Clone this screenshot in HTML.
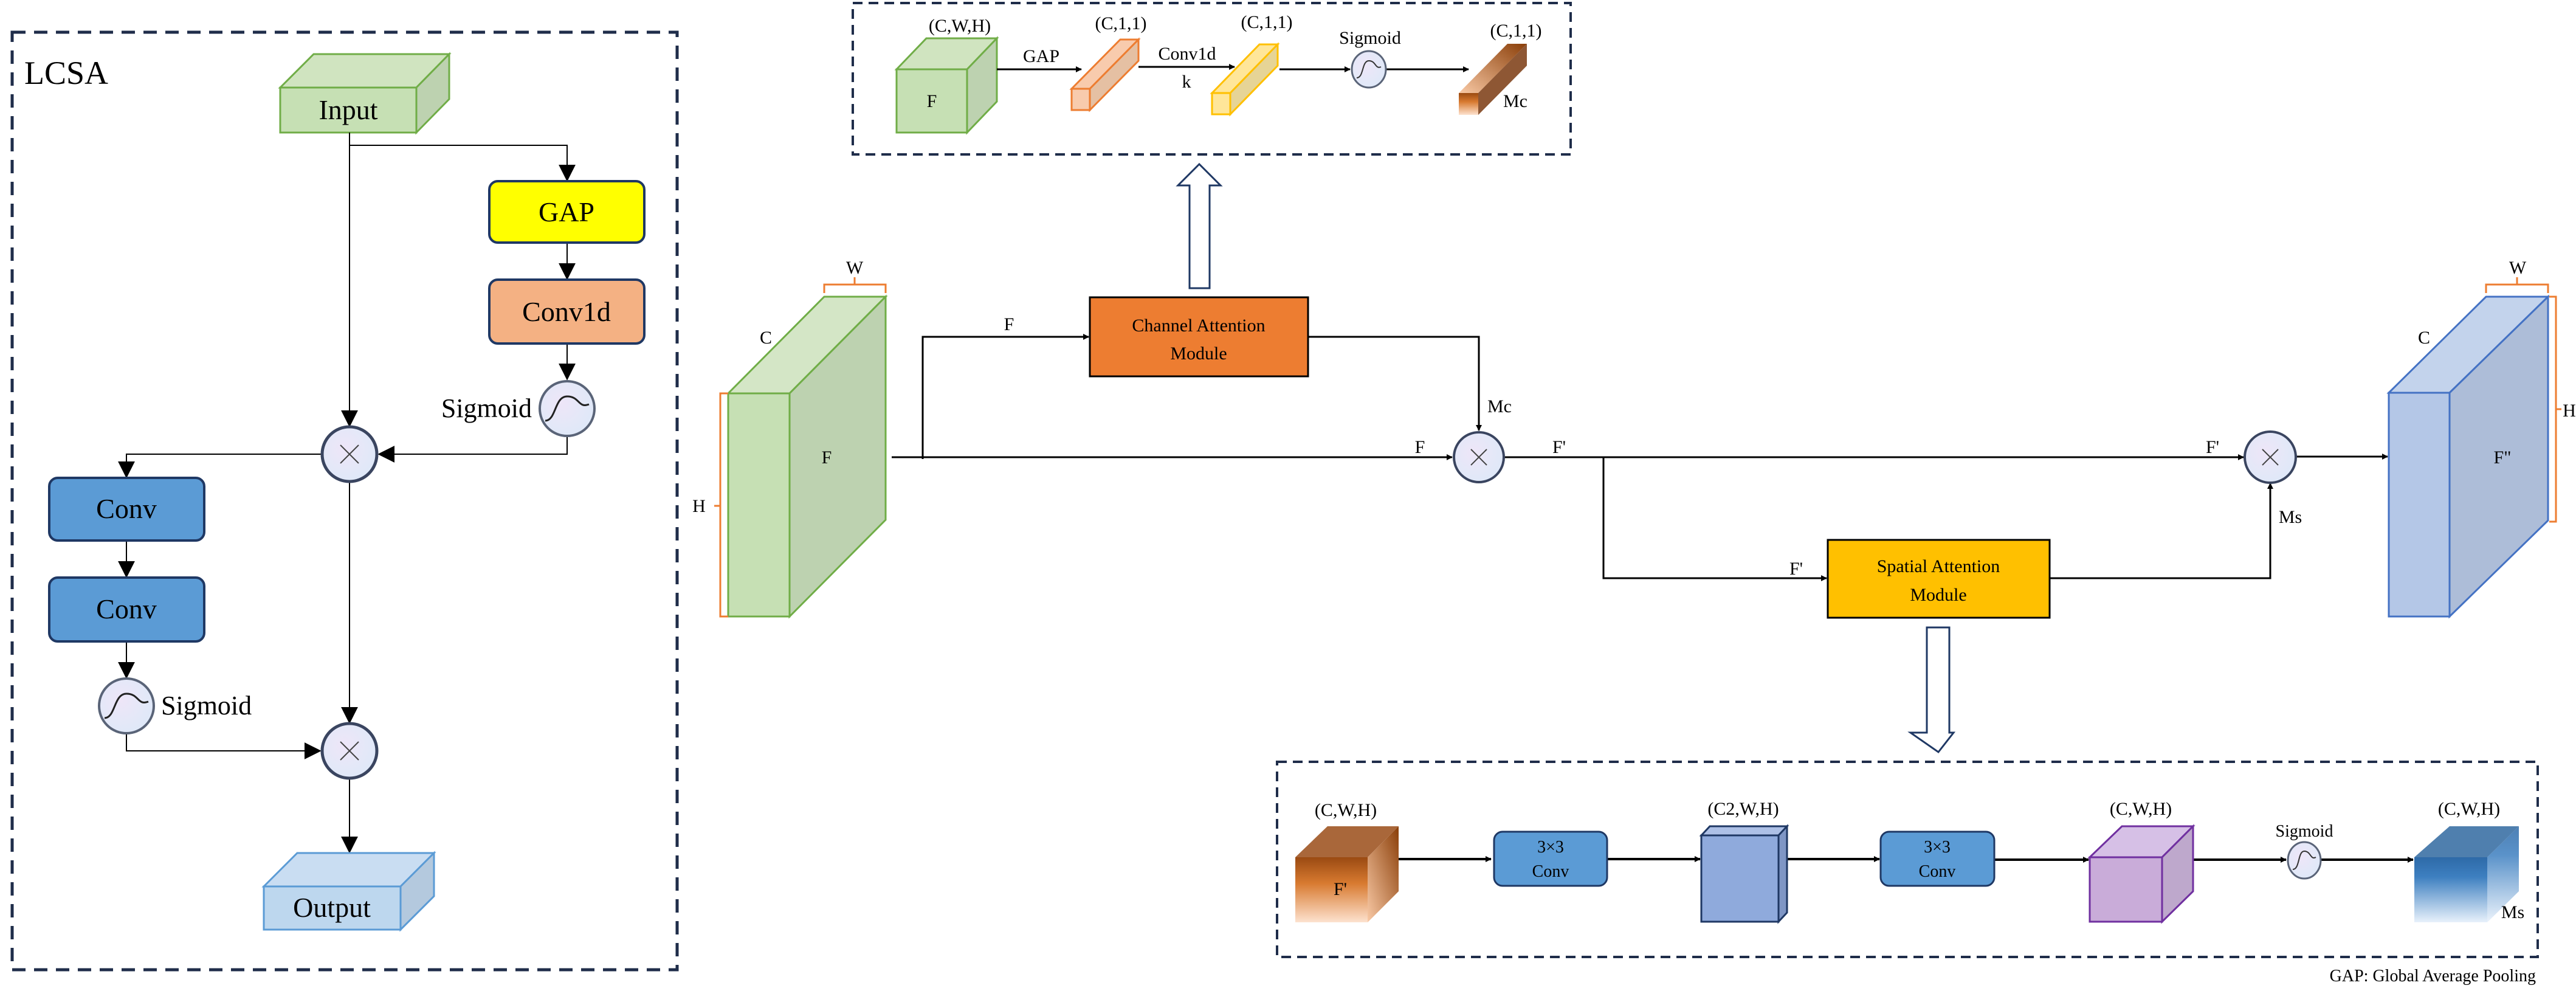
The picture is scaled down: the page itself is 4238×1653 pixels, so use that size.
<!DOCTYPE html>
<html><head><meta charset="utf-8"><style>
html,body{margin:0;padding:0;background:#fff;}
svg{display:block;}
text{font-family:"Liberation Serif",serif;fill:#000;}
</style></head><body>
<svg width="4238" height="1653" viewBox="0 0 4238 1653" xmlns="http://www.w3.org/2000/svg">
<defs>
<marker id="a" viewBox="0 0 10 10" refX="9" refY="5" markerWidth="10" markerHeight="10" markerUnits="userSpaceOnUse" orient="auto"><path d="M0,0L10,5L0,10z" fill="#000"/></marker>
<marker id="b" viewBox="0 0 10 10" refX="9" refY="5" markerWidth="28" markerHeight="28" markerUnits="userSpaceOnUse" orient="auto"><path d="M0,0L10,5L0,10z" fill="#000"/></marker>
<radialGradient id="cg" cx="0.4" cy="0.4" r="0.7"><stop offset="0" stop-color="#eee6f8"/><stop offset="1" stop-color="#dde9f8"/></radialGradient>
<linearGradient id="brn" x1="0" y1="1" x2="0" y2="0"><stop offset="0" stop-color="#fde2cf"/><stop offset="0.6" stop-color="#d87a30"/><stop offset="1" stop-color="#9a4a12"/></linearGradient>
<linearGradient id="brn2" x1="0" y1="1" x2="1" y2="0"><stop offset="0" stop-color="#f9c9a5"/><stop offset="1" stop-color="#8a3e08"/></linearGradient>
<linearGradient id="blu" x1="0" y1="1" x2="0" y2="0"><stop offset="0" stop-color="#e8f1fb"/><stop offset="0.7" stop-color="#3d7fc0"/><stop offset="1" stop-color="#2e6aa8"/></linearGradient>
</defs>

<!-- LEFT PANEL -->
<rect x="20" y="53" width="1094" height="1542" fill="none" stroke="#1f2d4a" stroke-width="5" stroke-dasharray="22,14"/>
<text x="40" y="138" font-size="54">LCSA</text>
<!-- Input -->
<polygon points="461,144 516,89 739,89 685,144" fill="#d0e4c0" stroke="#70ad47" stroke-width="3"/>
<polygon points="685,144 739,89 739,163 685,218" fill="#bdd2b0" stroke="#70ad47" stroke-width="3"/>
<rect x="461" y="144" width="224" height="74" fill="#c6e0b4" stroke="#70ad47" stroke-width="3"/>
<text x="573" y="196" font-size="46" text-anchor="middle">Input</text>
<g stroke="#000" stroke-width="2" fill="none">
<path d="M575,218V700" marker-end="url(#b)"/>
<path d="M575,239H933V296" marker-end="url(#b)"/>
<path d="M933,399V458" marker-end="url(#b)"/>
<path d="M933,565V623" marker-end="url(#b)"/>
<path d="M933,719V747H624" marker-end="url(#b)"/>
<path d="M528,747H208V784" marker-end="url(#b)"/>
<path d="M208,889V948" marker-end="url(#b)"/>
<path d="M208,1055V1114" marker-end="url(#b)"/>
<path d="M575,794V1188" marker-end="url(#b)"/>
<path d="M208,1206V1235H526" marker-end="url(#b)"/>
<path d="M575,1282V1401" marker-end="url(#b)"/>
</g>
<rect x="805" y="298" width="255" height="101" rx="14" fill="#ffff00" stroke="#1f3864" stroke-width="4"/>
<text x="932" y="364" font-size="46" text-anchor="middle">GAP</text>
<rect x="805" y="460" width="255" height="105" rx="14" fill="#f4b183" stroke="#1f3864" stroke-width="4"/>
<text x="932" y="528" font-size="46" text-anchor="middle">Conv1d</text>
<circle cx="933" cy="672" r="45" fill="url(#cg)" stroke="#5a6478" stroke-width="4"/>
<path d="M897,692C915,692 912,652 933,652S951,672 969,665" stroke="#222" stroke-width="3" fill="none"/>
<text x="875" y="686" font-size="44" text-anchor="end">Sigmoid</text>
<circle cx="575" cy="747" r="45" fill="url(#cg)" stroke="#3a4560" stroke-width="5"/>
<path d="M560,732L590,762M590,732L560,762" stroke="#444" stroke-width="2"/>
<rect x="81" y="786" width="255" height="103" rx="14" fill="#5b9bd5" stroke="#1f3864" stroke-width="4"/>
<text x="208" y="852" font-size="46" text-anchor="middle">Conv</text>
<rect x="81" y="950" width="255" height="105" rx="14" fill="#5b9bd5" stroke="#1f3864" stroke-width="4"/>
<text x="208" y="1017" font-size="46" text-anchor="middle">Conv</text>
<circle cx="208" cy="1161" r="45" fill="url(#cg)" stroke="#5a6478" stroke-width="4"/>
<path d="M172,1181C190,1181 187,1141 208,1141S226,1161 244,1154" stroke="#222" stroke-width="3" fill="none"/>
<text x="265" y="1175" font-size="44">Sigmoid</text>
<circle cx="575" cy="1235" r="45" fill="url(#cg)" stroke="#3a4560" stroke-width="5"/>
<path d="M560,1220L590,1250M590,1220L560,1250" stroke="#444" stroke-width="2"/>
<!-- Output -->
<polygon points="434,1458 489,1403 714,1403 659,1458" fill="#c9ddf2" stroke="#5b9bd5" stroke-width="3"/>
<polygon points="659,1458 714,1403 714,1474 659,1529" fill="#b4c9de" stroke="#5b9bd5" stroke-width="3"/>
<rect x="434" y="1458" width="225" height="71" fill="#bdd7ee" stroke="#5b9bd5" stroke-width="3"/>
<text x="546" y="1508" font-size="46" text-anchor="middle">Output</text>

<!-- TOP CHANNEL BOX -->
<rect x="1403" y="5" width="1181" height="249" fill="none" stroke="#1f2d4a" stroke-width="4" stroke-dasharray="16,10"/>
<polygon points="1475,114 1524,63 1640,63 1591,114" fill="#d0e4c0" stroke="#70ad47" stroke-width="3"/>
<polygon points="1591,114 1640,63 1640,167 1591,218" fill="#bdd2b0" stroke="#70ad47" stroke-width="3"/>
<rect x="1475" y="114" width="116" height="104" fill="#c6e0b4" stroke="#70ad47" stroke-width="3"/>
<text x="1533" y="176" font-size="30" text-anchor="middle">F</text>
<text x="1579" y="52" font-size="30" text-anchor="middle">(C,W,H)</text>
<polygon points="1763,146 1843,65 1873,65 1793,146" fill="#f8cbad" stroke="#ed7d31" stroke-width="3"/>
<polygon points="1793,146 1873,65 1873,100 1793,181" fill="#e5c0a3" stroke="#ed7d31" stroke-width="3"/>
<rect x="1763" y="146" width="30" height="35" fill="#f8cbad" stroke="#ed7d31" stroke-width="3"/>
<text x="1844" y="48" font-size="30" text-anchor="middle">(C,1,1)</text>
<polygon points="1994,153 2072,73 2102,73 2024,153" fill="#ffe699" stroke="#ffc000" stroke-width="3"/>
<polygon points="2024,153 2102,73 2102,108 2024,188" fill="#e6d496" stroke="#ffc000" stroke-width="3"/>
<rect x="1994" y="153" width="30" height="35" fill="#ffe699" stroke="#ffc000" stroke-width="3"/>
<text x="2084" y="46" font-size="30" text-anchor="middle">(C,1,1)</text>
<g stroke="#000" stroke-width="3" fill="none">
<path d="M1640,114H1779" marker-end="url(#a)"/>
<path d="M1873,110H2031" marker-end="url(#a)"/>
<path d="M2105,114H2221" marker-end="url(#a)"/>
<path d="M2281,114H2416" marker-end="url(#a)"/>
</g>
<text x="1713" y="102" font-size="30" text-anchor="middle">GAP</text>
<text x="1953" y="98" font-size="30" text-anchor="middle">Conv1d</text>
<text x="1952" y="144" font-size="30" text-anchor="middle">k</text>
<ellipse cx="2252" cy="114" rx="28" ry="30" fill="url(#cg)" stroke="#5a6478" stroke-width="3"/>
<path d="M2232,128C2244,128 2240,100 2252,100S2262,114 2272,110" stroke="#333" stroke-width="2" fill="none"/>
<text x="2254" y="72" font-size="30" text-anchor="middle">Sigmoid</text>
<polygon points="2400,153 2480,72 2512,72 2432,153" fill="url(#brn2)"/>
<polygon points="2432,153 2512,72 2512,108 2432,189" fill="#7a3a10" opacity="0.85"/>
<rect x="2400" y="153" width="32" height="36" fill="url(#brn)"/>
<text x="2494" y="60" font-size="30" text-anchor="middle">(C,1,1)</text>
<text x="2493" y="176" font-size="30" text-anchor="middle">Mc</text>
<!-- hollow up arrow -->
<path d="M1957,474V305H1938L1973,270L2008,305H1990V474Z" fill="#fff" stroke="#1f3864" stroke-width="3"/>

<!-- Green slab F -->
<polygon points="1198,647 1356,488 1457,488 1299,647" fill="#d4e6c6" stroke="#70ad47" stroke-width="3"/>
<polygon points="1299,647 1457,488 1457,855 1299,1014" fill="#bdd2b0" stroke="#70ad47" stroke-width="3"/>
<rect x="1198" y="647" width="101" height="367" fill="#c6e0b4" stroke="#70ad47" stroke-width="3"/>
<path d="M1356,482V468H1457V482M1406,468V456" stroke="#ed7d31" stroke-width="3" fill="none"/>
<path d="M1198,647H1185V1014H1198M1185,832H1175" stroke="#ed7d31" stroke-width="3" fill="none"/>
<text x="1406" y="450" font-size="30" text-anchor="middle">W</text>
<text x="1260" y="565" font-size="30" text-anchor="middle">C</text>
<text x="1360" y="762" font-size="30" text-anchor="middle">F</text>
<text x="1150" y="842" font-size="30" text-anchor="middle">H</text>

<g stroke="#000" stroke-width="3" fill="none">
<path d="M1467,752H2389" marker-end="url(#a)"/>
<path d="M1518,755V554H1791" marker-end="url(#a)"/>
<path d="M2152,554H2433V708" marker-end="url(#a)"/>
<path d="M2475,752H3691" marker-end="url(#a)"/>
<path d="M2638,752V951H3005" marker-end="url(#a)"/>
<path d="M3372,951H3735V795" marker-end="url(#a)"/>
<path d="M3778,751H3928" marker-end="url(#a)"/>
</g>
<rect x="1793" y="489" width="359" height="130" fill="#ed7d31" stroke="#000" stroke-width="3"/>
<text x="1972" y="545" font-size="30" text-anchor="middle">Channel Attention</text>
<text x="1972" y="591" font-size="30" text-anchor="middle">Module</text>
<text x="1660" y="543" font-size="30" text-anchor="middle">F</text>
<text x="2336" y="745" font-size="30" text-anchor="middle">F</text>
<text x="2467" y="678" font-size="30" text-anchor="middle">Mc</text>
<text x="2565" y="745" font-size="30" text-anchor="middle">F'</text>
<circle cx="2433" cy="752" r="41" fill="url(#cg)" stroke="#3a4560" stroke-width="4"/>
<path d="M2420,739L2446,765M2446,739L2420,765" stroke="#444" stroke-width="2"/>

<rect x="3007" y="888" width="365" height="128" fill="#ffc000" stroke="#000" stroke-width="3"/>
<text x="3189" y="941" font-size="30" text-anchor="middle">Spatial Attention</text>
<text x="3189" y="988" font-size="30" text-anchor="middle">Module</text>
<text x="2955" y="945" font-size="30" text-anchor="middle">F'</text>
<text x="3640" y="745" font-size="30" text-anchor="middle">F'</text>
<text x="3768" y="860" font-size="30" text-anchor="middle">Ms</text>
<circle cx="3735" cy="752" r="42" fill="url(#cg)" stroke="#3a4560" stroke-width="4"/>
<path d="M3722,739L3748,765M3748,739L3722,765" stroke="#444" stroke-width="2"/>

<!-- Blue slab F'' -->
<polygon points="3930,646 4090,488 4192,488 4030,646" fill="#c3d3ec" stroke="#4472c4" stroke-width="3"/>
<polygon points="4030,646 4192,488 4192,856 4030,1014" fill="#adbdd8" stroke="#4472c4" stroke-width="3"/>
<rect x="3930" y="646" width="100" height="368" fill="#b4c7e7" stroke="#4472c4" stroke-width="3"/>
<path d="M4090,482V468H4192V482M4141,468V456" stroke="#ed7d31" stroke-width="3" fill="none"/>
<path d="M4194,488H4205V858H4194M4205,673H4214" stroke="#ed7d31" stroke-width="3" fill="none"/>
<text x="4142" y="450" font-size="30" text-anchor="middle">W</text>
<text x="3988" y="565" font-size="30" text-anchor="middle">C</text>
<text x="4117" y="762" font-size="30" text-anchor="middle">F"</text>
<text x="4227" y="685" font-size="30" text-anchor="middle">H</text>

<!-- hollow down arrow -->
<path d="M3170,1032V1205H3143L3189,1237L3214,1205H3207V1032Z" fill="#fff" stroke="#1f3864" stroke-width="3"/>

<!-- BOTTOM SPATIAL BOX -->
<rect x="2101" y="1253" width="2074" height="321" fill="none" stroke="#1f2d4a" stroke-width="4" stroke-dasharray="16,10"/>
<polygon points="2131,1410 2184,1359 2301,1359 2250,1410" fill="#a9673a"/>
<polygon points="2250,1410 2301,1359 2301,1466 2250,1517" fill="url(#brn2)"/>
<rect x="2131" y="1410" width="119" height="107" fill="url(#brn)"/>
<text x="2214" y="1342" font-size="30" text-anchor="middle">(C,W,H)</text>
<text x="2205" y="1472" font-size="30" text-anchor="middle">F'</text>
<g stroke="#000" stroke-width="4" fill="none">
<path d="M2301,1413H2453" marker-end="url(#a)"/>
<path d="M2644,1413H2797" marker-end="url(#a)"/>
<path d="M2940,1413H3092" marker-end="url(#a)"/>
<path d="M3281,1414H3436" marker-end="url(#a)"/>
<path d="M3608,1414H3761" marker-end="url(#a)"/>
<path d="M3819,1414H3970" marker-end="url(#a)"/>
</g>
<rect x="2458" y="1368" width="186" height="89" rx="14" fill="#5b9bd5" stroke="#1f3864" stroke-width="3"/>
<text x="2551" y="1402" font-size="28" text-anchor="middle">3×3</text>
<text x="2551" y="1442" font-size="28" text-anchor="middle">Conv</text>
<polygon points="2799,1374 2813,1359 2940,1359 2926,1374" fill="#adc0e6" stroke="#1f3864" stroke-width="3"/>
<polygon points="2926,1374 2940,1359 2940,1501 2926,1516" fill="#7f96c5" stroke="#1f3864" stroke-width="3"/>
<rect x="2799" y="1374" width="127" height="142" fill="#8faadc" stroke="#1f3864" stroke-width="3"/>
<text x="2868" y="1340" font-size="30" text-anchor="middle">(C2,W,H)</text>
<rect x="3094" y="1368" width="187" height="89" rx="14" fill="#5b9bd5" stroke="#1f3864" stroke-width="3"/>
<text x="3187" y="1402" font-size="28" text-anchor="middle">3×3</text>
<text x="3187" y="1442" font-size="28" text-anchor="middle">Conv</text>
<polygon points="3438,1410 3491,1359 3608,1359 3557,1410" fill="#d6c0e6" stroke="#7030a0" stroke-width="3"/>
<polygon points="3557,1410 3608,1359 3608,1466 3557,1516" fill="#bea8cc" stroke="#7030a0" stroke-width="3"/>
<rect x="3438" y="1410" width="119" height="106" fill="#c9acd9" stroke="#7030a0" stroke-width="3"/>
<text x="3522" y="1340" font-size="30" text-anchor="middle">(C,W,H)</text>
<ellipse cx="3791" cy="1415" rx="27" ry="30" fill="url(#cg)" stroke="#5a6478" stroke-width="3"/>
<path d="M3772,1430C3784,1430 3780,1400 3791,1400S3801,1415 3810,1410" stroke="#333" stroke-width="2" fill="none"/>
<text x="3791" y="1376" font-size="28" text-anchor="middle">Sigmoid</text>
<polygon points="3972,1410 4030,1359 4144,1359 4092,1410" fill="#4f7fae"/>
<polygon points="4092,1410 4144,1359 4144,1466 4092,1517" fill="url(#blu)" opacity="0.85"/>
<rect x="3972" y="1410" width="120" height="107" fill="url(#blu)"/>
<text x="4062" y="1340" font-size="30" text-anchor="middle">(C,W,H)</text>
<text x="4134" y="1510" font-size="30" text-anchor="middle">Ms</text>
<text x="4172" y="1614" font-size="28" text-anchor="end">GAP: Global Average Pooling</text>
</svg>
</body></html>
